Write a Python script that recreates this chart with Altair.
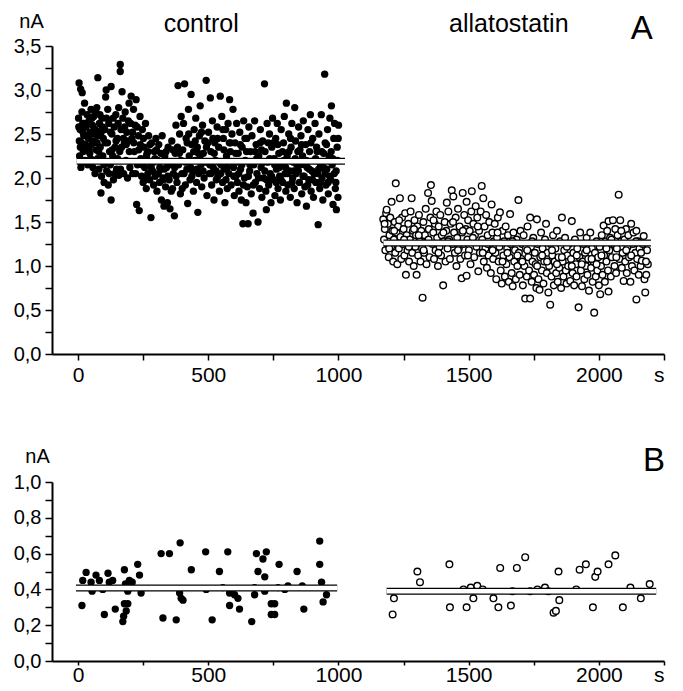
import altair as alt
import pandas as pd

# ---------------- data ----------------
# Panel A, control (filled circles): (time s, current nA)
ctrl_a = [
(2,2.68),(4,3.08),(6,2.25),(8,2.55),(10,3.01),(12,2.18),(14,2.40),(16,2.97),(18,2.62),(20,2.30),(22,2.48),(25,2.85),(27,2.20),(30,2.58),(32,2.35),(35,2.72),(37,2.15),(40,2.45),(42,2.65),(45,2.28),(47,2.52),(50,2.78),(52,2.38),(55,2.60),(57,2.12),(60,2.70),(62,2.42),(65,2.05),(67,2.55),(70,2.32),(72,2.80),(75,2.22),(76,3.14),(78,2.48),(80,2.10),(82,2.62),(85,2.35),(88,1.83),(90,2.02),(92,2.68),(95,2.25),(97,2.45),(100,1.95),
(103,2.55),(106,2.92),(108,3.00),(110,2.08),(113,2.40),(116,1.92),(118,2.62),(121,2.30),(124,2.15),(127,3.04),(127,1.75),(130,2.50),(133,2.25),(136,1.98),(139,2.58),(142,2.35),(145,2.72),(148,2.10),(151,2.45),(154,2.62),(157,2.03),(160,2.30),(162,3.29),(162,3.21),(165,2.55),(169,2.98),(172,2.68),(175,2.05),(178,2.40),(181,2.75),(184,2.20),(187,2.52),(190,2.00),(193,2.65),(196,2.85),(199,2.12),
(204,2.93),(207,2.45),(210,2.05),(213,2.78),(216,2.30),(219,2.60),(223,2.89),(225,1.70),(228,2.15),(232,2.48),(235,1.63),(238,2.70),(241,2.22),(244,2.02),(247,2.55),(250,1.95),(253,2.35),(256,2.12),(259,2.62),(262,1.88),(265,2.28),(268,2.05),(271,2.48),(275,1.98),(278,2.18),(280,1.55),(283,2.40),(286,2.08),(290,1.92),(293,2.30),(296,2.02),(299,2.45),
(303,1.85),(306,2.20),(310,2.38),(313,1.95),(316,2.10),(320,1.75),(323,2.48),(326,2.00),(330,1.68),(333,2.25),(336,1.90),(340,2.12),(343,1.72),(346,2.35),(350,1.98),(353,1.65),(356,2.18),(360,2.42),(363,1.88),(366,2.05),(370,1.57),(373,2.28),(376,2.60),(380,1.95),(384,3.05),(386,2.15),(390,2.50),(393,1.82),(396,2.70),(399,2.05),
(402,2.32),(405,2.62),(409,3.07),(412,1.92),(415,2.45),(418,2.10),(421,1.71),(424,2.78),(427,2.25),(430,1.98),(434,2.95),(436,2.38),(440,2.08),(443,1.85),(446,2.55),(449,2.20),(452,2.68),(455,1.95),(458,2.35),(460,1.61),(463,2.05),(466,2.48),(469,2.82),(472,2.15),(475,1.90),(478,2.60),(481,2.28),(484,2.00),(487,2.42),(492,3.11),(495,1.80),(498,2.18),
(501,2.52),(504,2.05),(508,2.91),(510,2.30),(513,1.92),(516,2.65),(519,2.12),(522,1.75),(525,2.40),(528,2.20),(531,1.98),(534,2.58),(537,2.02),(540,2.35),(543,1.85),(546,2.93),(549,2.15),(552,2.70),(555,1.95),(558,2.45),(561,2.10),(564,1.72),(567,2.55),(570,2.25),(573,1.88),(576,2.62),(579,2.05),(582,2.89),(585,2.30),(588,1.92),(591,2.50),(595,2.78),(597,2.12),(600,1.80),
(603,2.40),(606,2.02),(609,2.62),(612,1.95),(615,2.28),(618,1.85),(621,2.52),(624,2.10),(627,1.75),(630,2.35),(633,1.48),(636,2.65),(639,2.00),(642,2.20),(645,1.72),(648,2.45),(650,1.90),(653,1.48),(656,2.58),(659,2.08),(662,2.30),(665,1.82),(668,2.48),(672,1.60),(675,2.15),(678,2.65),(681,1.95),(684,2.38),(687,2.05),(691,1.50),(694,2.25),(697,1.88),(700,2.55),
(703,2.12),(706,1.78),(709,2.42),(712,2.00),(716,3.07),(718,2.30),(721,1.85),(723,1.64),(726,2.62),(729,2.18),(732,1.92),(735,2.50),(738,2.05),(741,1.72),(744,2.35),(747,2.68),(750,1.98),(753,2.22),(756,1.80),(759,2.45),(762,2.10),(765,2.62),(768,1.88),(771,2.28),(774,2.02),(777,1.75),(780,2.55),(783,2.15),(786,1.95),(789,2.40),(792,2.70),(795,2.05),(798,1.85),
(800,2.85),(803,2.25),(806,1.92),(809,2.50),(812,2.08),(815,1.78),(818,2.35),(821,2.62),(824,2.00),(827,2.18),(830,1.88),(832,2.80),(835,2.42),(838,2.05),(841,1.72),(844,2.30),(847,2.58),(850,1.95),(853,2.15),(856,2.48),(859,1.82),(862,2.25),(865,2.65),(868,2.02),(871,1.90),(874,2.38),(877,1.68),(880,2.12),(883,2.55),(886,1.98),(889,2.30),(892,2.72),(895,1.85),(898,2.08),
(901,2.45),(904,1.78),(907,2.20),(910,2.62),(913,1.95),(916,2.35),(919,2.05),(922,1.47),(925,2.50),(928,1.88),(931,2.15),(934,2.72),(937,2.00),(940,1.75),(943,2.28),(947,3.18),(949,2.40),(952,1.92),(955,2.10),(958,2.55),(961,1.82),(964,2.25),(967,2.68),(970,1.98),(973,2.82),(976,2.15),(979,1.70),(982,2.45),(985,2.62),(988,1.88),(991,2.08),(992,1.64),(995,2.35),(998,1.78),(1000,2.60),
(5,2.42),(11,2.12),(19,2.52),(28,2.38),(38,2.62),(48,2.22),(58,2.50),(68,2.75),(79,2.30),(89,2.52),(99,2.15),(109,2.68),(119,2.05),(131,2.32),(141,2.05),(152,2.22),(163,2.10),(174,2.45),(185,2.38),(197,2.30),
(209,2.52),(221,2.05),(233,2.32),(246,2.15),(257,1.98),(269,2.30),(281,2.12),(295,2.22),(308,2.05),(318,2.28),(331,2.10),(345,2.02),(358,1.85),(371,2.12),(382,2.35),(395,2.20),
(407,2.05),(419,2.40),(432,2.12),(444,2.30),(456,2.10),(468,2.22),(480,2.08),(493,2.35),(506,2.15),(518,2.45),(530,2.08),(542,2.18),(556,2.55),(568,1.98),(581,2.40),(593,2.18),
(605,2.28),(617,2.05),(629,2.15),(641,2.45),(654,2.02),(667,2.18),(680,2.30),(693,2.00),(705,2.32),(717,2.08),(730,2.40),(743,2.02),(755,2.15),(767,2.38),(779,1.98),(791,2.20),
(804,2.05),(816,2.45),(828,2.08),(840,2.15),(852,2.32),(864,2.02),(876,2.20),(888,2.10),(900,1.98),(912,2.22),(924,2.10),(936,2.30),(948,2.05),(960,1.95),(972,2.30),(984,2.05),(996,2.20),
(3,2.58),(9,2.35),(15,2.75),(23,2.62),(33,2.48),(43,2.32),(53,2.68),(63,2.55),(73,2.40),(84,2.72),(94,2.58),(104,2.40),(114,2.78),(125,2.52),(135,2.68),(146,2.42),(156,2.80),(167,2.35),(179,2.58),(191,2.42),
(202,2.62),(214,2.40),(227,2.58),(239,2.38),(251,2.45),(263,2.25),(276,2.38),(289,2.18),(301,2.32),(314,2.12),(328,1.98),(338,2.30),(351,2.15),(364,2.32),(377,2.02),(389,2.28),
(400,1.88),(413,2.18),(425,2.50),(437,2.02),(450,2.42),(462,2.28),(474,2.52),(486,2.18),(499,2.40),(511,2.05),(523,2.28),(536,2.45),(548,2.05),(560,2.32),(572,2.12),(586,2.40),
(598,2.02),(611,2.18),(623,2.38),(635,1.92),(647,2.30),(660,2.15),(673,1.92),(686,2.22),(699,2.40),(711,2.18),(724,1.98),(736,2.22),(749,2.40),(761,1.95),(773,2.12),(785,2.30),
(797,2.12),(810,2.30),(822,1.95),(834,2.22),(846,2.08),(858,2.38),(870,2.15),(882,1.92),(894,2.40),(906,2.05),(918,2.30),(930,1.95),(942,2.12),(954,2.38),(966,2.02),(978,2.22),(990,1.95),(999,2.45),
]

# Panel A, allatostatin (open circles)
alla_a = [
(1172,1.53),(1175,1.30),(1178,1.42),(1180,1.18),(1183,1.60),(1185,1.64),(1188,1.25),(1190,1.48),(1193,1.10),(1196,1.35),(1199,1.55),(1202,1.22),(1204,1.73),(1207,1.40),(1210,1.05),(1213,1.30),(1216,1.50),(1218,1.15),(1220,1.94),(1223,1.38),(1226,1.02),(1229,1.45),(1232,1.20),(1236,1.77),(1238,1.33),(1241,1.08),(1244,1.55),(1247,1.25),(1250,1.42),(1253,1.12),(1256,1.60),(1259,0.90),(1262,1.35),(1265,1.18),(1268,1.48),(1271,1.05),(1274,1.30),(1277,1.62),(1281,1.77),(1283,1.15),(1286,1.40),(1289,1.00),(1292,1.52),(1295,1.22),(1298,1.35),(1300,0.90),
(1303,1.45),(1306,1.12),(1309,1.58),(1312,1.28),(1315,1.05),(1318,1.40),(1321,1.20),(1323,0.64),(1326,1.50),(1329,1.15),(1332,1.35),(1335,1.65),(1338,1.02),(1341,1.28),(1344,1.83),(1347,1.42),(1350,1.10),(1353,1.55),(1355,1.92),(1358,1.74),(1361,1.25),(1364,1.38),(1367,1.08),(1370,1.48),(1373,1.18),(1376,1.62),(1379,1.32),(1382,1.00),(1385,1.45),(1388,1.22),(1391,1.58),(1394,1.12),(1397,1.35),(1402,0.78),(1405,1.28),(1408,1.50),(1411,1.05),(1414,1.40),(1416,1.72),(1419,1.20),(1422,1.62),(1425,1.30),(1428,1.08),(1431,1.48),(1435,1.86),(1438,1.25),(1441,1.79),(1444,1.38),(1447,1.15),
(1450,1.55),(1453,1.00),(1456,1.32),(1459,1.65),(1462,1.20),(1465,1.45),(1468,1.08),(1473,0.86),(1475,1.38),(1477,1.83),(1480,1.25),(1483,1.58),(1486,1.12),(1489,1.42),(1492,0.89),(1492,1.73),(1495,1.30),(1498,1.52),(1501,1.18),(1504,1.40),(1507,1.02),(1510,1.62),(1512,1.85),(1515,1.28),(1518,1.48),(1521,1.10),(1524,1.35),(1527,1.68),(1530,1.22),(1533,1.55),(1537,0.94),(1540,1.40),(1543,1.15),(1546,1.62),(1550,1.91),(1552,1.30),(1556,1.77),(1558,1.05),(1561,1.45),(1564,1.20),(1567,1.58),(1570,0.98),(1573,1.35),(1576,1.12),(1579,1.50),(1582,1.25),(1585,0.92),(1588,1.70),(1591,1.38),(1594,1.08),(1597,1.28),(1600,1.48),
(1603,1.15),(1606,0.85),(1609,1.32),(1612,1.55),(1615,1.05),(1618,1.22),(1620,1.61),(1623,0.95),(1627,0.80),(1630,1.40),(1633,1.12),(1636,1.28),(1639,0.88),(1642,1.45),(1645,1.02),(1648,1.20),(1651,1.35),(1654,0.82),(1657,1.10),(1659,1.59),(1662,1.25),(1665,0.92),(1669,0.77),(1672,1.38),(1675,1.05),(1678,1.18),(1681,0.85),(1684,1.30),(1687,1.00),(1691,1.75),(1693,1.15),(1696,0.90),(1699,1.40),(1702,1.08),(1705,1.25),(1708,0.78),(1711,1.35),(1714,1.00),(1717,0.63),(1720,1.20),(1723,0.88),(1726,1.45),(1729,1.10),(1732,0.95),(1736,0.63),(1736,1.55),(1739,1.22),(1742,0.82),(1745,1.05),(1748,1.32),(1751,0.90),(1754,1.15),(1757,1.02),(1760,0.75),(1762,1.53),(1765,1.25),(1768,0.85),(1772,0.73),(1775,1.10),(1778,1.38),(1781,0.95),(1784,1.20),(1787,0.80),(1790,1.05),(1793,1.30),(1797,1.48),(1800,0.92),
(1803,1.15),(1806,0.70),(1809,1.00),(1813,0.56),(1815,1.25),(1818,0.88),(1821,1.12),(1824,1.35),(1827,0.78),(1830,1.05),(1833,1.20),(1836,0.92),(1839,1.40),(1842,0.82),(1845,1.10),(1848,0.98),(1851,1.28),(1855,0.75),(1858,1.55),(1861,1.05),(1864,0.88),(1867,1.18),(1870,1.32),(1873,0.95),(1876,0.80),(1879,1.12),(1882,1.00),(1885,1.25),(1890,0.83),(1893,1.08),(1896,1.51),(1899,0.92),(1902,1.15),(1905,0.78),(1908,1.30),(1911,1.02),(1914,0.88),(1917,1.20),(1922,0.53),(1925,1.10),(1928,1.38),(1931,0.95),(1935,0.77),(1938,1.05),(1941,1.25),(1944,0.85),(1947,1.15),(1950,1.00),(1953,1.32),(1956,0.90),(1959,1.08),(1962,0.72),(1967,1.38),(1970,0.98),(1973,1.20),(1976,0.82),(1979,1.05),(1982,0.47),(1985,1.15),(1988,0.88),(1991,1.28),(1994,0.95),(1997,1.10),
(2000,0.78),(2003,1.22),(2005,0.68),(2008,1.00),(2011,1.35),(2014,0.90),(2018,1.46),(2020,1.12),(2023,0.82),(2026,1.28),(2029,1.05),(2032,1.40),(2035,0.95),(2037,0.71),(2037,1.51),(2040,1.18),(2043,1.32),(2046,0.88),(2050,1.10),(2054,1.52),(2057,1.25),(2060,1.00),(2063,1.42),(2066,0.92),(2069,1.20),(2072,1.35),(2076,1.81),(2079,1.08),(2082,1.52),(2085,1.28),(2088,0.98),(2091,1.15),(2095,0.83),(2098,1.30),(2101,1.05),(2104,1.42),(2107,0.92),(2110,1.22),(2113,1.35),(2116,1.10),(2121,0.82),(2124,1.48),(2127,1.00),(2130,1.25),(2133,1.38),(2136,0.95),(2140,1.15),(2144,1.40),(2144,0.62),(2147,1.08),(2150,1.28),(2153,0.90),(2156,1.20),(2160,1.00),(2165,1.06),(2168,1.25),(2172,1.34),(2175,0.85),(2178,0.70),(2182,0.90),(2185,1.18),(2188,1.02),
(1177,1.48),(1195,1.20),(1214,1.40),(1233,1.52),(1252,1.30),(1270,1.22),(1290,1.42),(1308,1.35),(1327,1.18),(1346,1.30),(1365,1.52),(1384,1.15),(1403,1.38),(1421,1.28),(1440,1.50),(1459,1.18),
(1478,1.40),(1497,1.12),(1516,1.32),(1535,1.45),(1554,1.15),(1573,1.25),(1592,1.18),(1611,1.38),(1630,1.05),(1649,1.15),(1668,1.28),(1687,1.12),(1706,1.05),(1725,1.18),(1744,1.28),(1763,1.00),
(1782,1.12),(1801,1.05),(1820,1.18),(1839,1.02),(1858,1.10),(1877,1.22),(1896,1.00),(1915,1.12),(1934,1.02),(1953,1.18),(1972,1.08),(1991,1.02),(2010,1.12),(2029,1.20),(2048,1.30),(2067,1.10),
(2086,1.40),(2105,1.18),(2124,1.12),(2143,1.28),(2162,1.15),(2181,1.05),
]

# Panel B, control (filled circles)
ctrl_b = [
(15,0.31),(18,0.45),(31,0.495),(50,0.44),(54,0.39),(69,0.48),(82,0.45),(95,0.40),(101,0.26),(115,0.49),(120,0.44),(133,0.45),(143,0.29),
(172,0.22),(175,0.25),(178,0.51),(178,0.32),(182,0.43),(185,0.28),(191,0.39),(191,0.32),(197,0.45),(208,0.44),(229,0.54),(236,0.48),(242,0.38),
(319,0.60),(326,0.24),(351,0.60),(377,0.23),(390,0.38),(392,0.66),(396,0.35),(403,0.34),(435,0.51),(490,0.61),(492,0.40),(515,0.23),
(543,0.50),(556,0.41),(575,0.61),(582,0.38),(582,0.31),(601,0.37),(614,0.35),(620,0.29),(667,0.22),(678,0.41),(678,0.37),(685,0.60),
(691,0.50),(710,0.57),(717,0.47),(717,0.39),(723,0.61),(742,0.32),(742,0.26),(755,0.32),(755,0.26),(768,0.41),(772,0.54),(794,0.40),
(806,0.42),(841,0.50),(861,0.42),(867,0.29),(928,0.67),(928,0.54),(935,0.44),(941,0.33),(954,0.37),
]

# Panel B, allatostatin (open circles)
alla_b = [
(1208,0.26),(1213,0.35),(1303,0.50),(1313,0.44),(1426,0.54),(1428,0.30),(1480,0.40),(1492,0.30),(1508,0.41),(1518,0.35),(1533,0.42),
(1554,0.40),(1595,0.35),(1614,0.30),(1621,0.52),(1662,0.31),(1668,0.39),(1685,0.52),(1717,0.58),(1736,0.39),(1764,0.40),(1793,0.41),
(1806,0.39),(1826,0.27),(1835,0.28),(1845,0.50),(1848,0.34),(1913,0.40),(1926,0.51),(1950,0.54),(1977,0.30),(1986,0.47),(1995,0.50),
(2037,0.54),(2063,0.59),(2092,0.30),(2121,0.41),(2161,0.35),(2195,0.43),
]

# Mean current bars: (start s, end s, mean nA)
mean_a = [(-5, 1025, 2.19), (1173, 2200, 1.26)]
mean_b = [(-8, 995, 0.408), (1185, 2220, 0.39)]

# Annotation texts
titles_a = [(473, "control"), (1654, "allatostatin")]
x_ticks = [0, 250, 500, 750, 1000, 1250, 1500, 1750, 2000, 2250]
y_ticks_a = [0, 0.25, 0.5, 0.75, 1.0, 1.25, 1.5, 1.75, 2.0, 2.25, 2.5, 2.75, 3.0, 3.25, 3.5]
y_ticks_b = [0, 0.1, 0.2, 0.3, 0.4, 0.5, 0.6, 0.7, 0.8, 0.9, 1.0]

FONT = "Liberation Sans"
W = 612

def pts(lst):
    return pd.DataFrame({"t": [p[0] for p in lst], "v": [p[1] for p in lst]})

def means(lst):
    return pd.DataFrame({"t": [m[0] for m in lst], "t2": [m[1] for m in lst], "v": [m[2] for m in lst]})

xscale = alt.Scale(domain=[-100, 2250], nice=False, zero=False)

def xaxis(tick, pad):
    return alt.Axis(
        values=x_ticks, title=None, tickSize=tick, labelPadding=pad, labelFontSize=21,
        labelExpr="datum.value == 2250 ? 's' : (datum.value % 500 == 0 ? format(datum.value, 'd') : '')",
    )

def yaxis(vals, step_expr, tx, ty):
    return alt.Axis(
        values=vals, title="nA", titleAngle=0, titleAlign="center", titleBaseline="middle",
        titleX=tx, titleY=ty, titleFont=FONT, titleFontSize=20, titleFontWeight="normal",
        labelExpr=f"({step_expr}) ? replace(format(datum.value, '.1f'), '.', ',') : ''",
    )

def panel(ctrl, alla, mean, ymax, yvals, step_expr, height, letter, letter_y, titles, xa, tx, ty):
    ys = alt.Scale(domain=[0, ymax], nice=False, zero=True)
    ya = yaxis(yvals, step_expr, tx, ty)
    X = alt.X("t:Q", scale=xscale, axis=xa)
    Y = alt.Y("v:Q", scale=ys, axis=ya)
    filled = alt.Chart(pts(ctrl)).mark_circle(size=54, color="black", opacity=1).encode(x=X, y=Y)
    openc = alt.Chart(pts(alla)).mark_point(
        shape="circle", filled=True, fill="white", stroke="black", strokeWidth=1.4, size=44, opacity=1
    ).encode(x=X, y=Y)
    md = means(mean)
    bar_outer = alt.Chart(md).mark_rule(color="black", strokeWidth=7, strokeCap="butt").encode(
        x=X, x2="t2:Q", y=Y)
    bar_inner = alt.Chart(md).mark_rule(color="white", strokeWidth=4.5, strokeCap="butt").encode(
        x=X, x2="t2:Q", y=Y)
    layers = [filled, openc, bar_outer, bar_inner]
    if titles:
        td = pd.DataFrame({"t": [t[0] for t in titles], "label": [t[1] for t in titles]})
        layers.append(alt.Chart(td).mark_text(font=FONT, fontSize=25, color="black", baseline="middle").encode(
            x=X, y=alt.value(-22), text="label:N"))
    ld = pd.DataFrame({"t": [letter[0]], "label": [letter[1]]})
    layers.append(alt.Chart(ld).mark_text(font=FONT, fontSize=33, color="black", baseline="middle").encode(
        x=X, y=alt.value(letter_y), text="label:N"))
    return alt.layer(*layers).properties(width=W, height=height)

pa = panel(ctrl_a, alla_a, mean_a, 3.5, y_ticks_a, "abs(datum.value*2 - round(datum.value*2)) < 0.001",
           308, (2165, "A"), -17, titles_a, xaxis(6, 4), -21, -25)
pb = panel(ctrl_b, alla_b, mean_b, 1.0, y_ticks_b, "abs(datum.value*5 - round(datum.value*5)) < 0.001",
           179, (2212, "B"), -21, None, xaxis(4, -1), -15, -26)

chart = alt.vconcat(pa, pb, spacing=60).properties(
    padding={"left": 5, "top": 3, "right": 5, "bottom": 0}
).configure_view(strokeWidth=0).configure_axis(
    grid=False, domainColor="black", domainWidth=2, tickColor="black", tickWidth=1.5, tickSize=7,
    labelFont=FONT, labelFontSize=20, labelColor="black", labelPadding=4,
)

chart.save("out.html", embed_options={"renderer": "svg", "actions": False})
